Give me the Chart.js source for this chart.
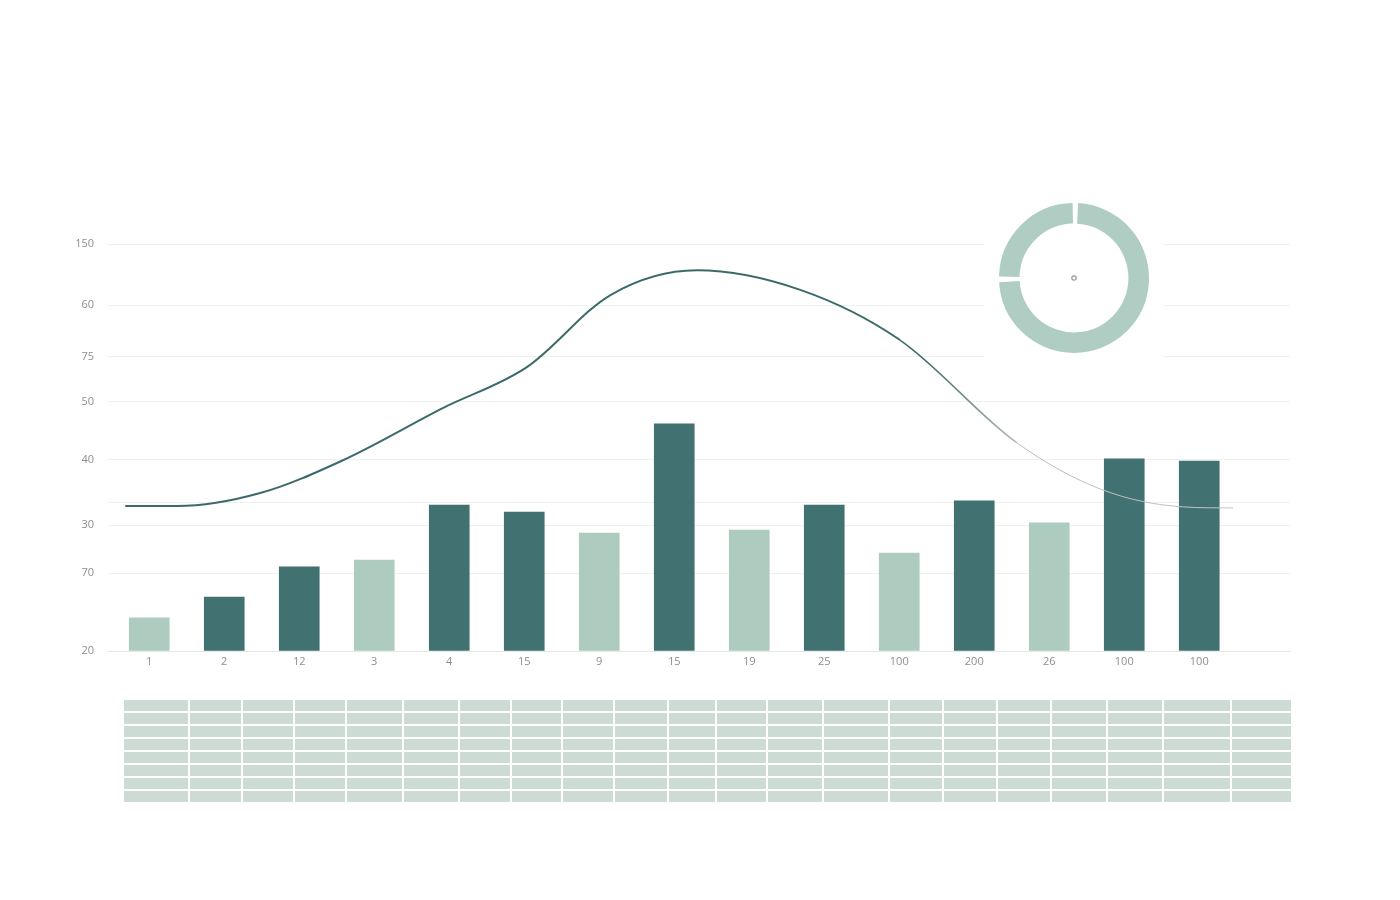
<!DOCTYPE html>
<html lang="en">
<head>
  <meta charset="UTF-8">
  <title>Bars and trend</title>
  <script src="https://cdn.jsdelivr.net/npm/chart.js"></script>
  <style>
    html, body {
      margin: 0;
      padding: 0;
      background: #ffffff;
    }
    body {
      width: 1400px;
      height: 900px;
      position: relative;
      overflow: hidden;
      font-family: "Open Sans", Arial, sans-serif;
    }
    #mainBox {
      position: absolute;
      left: 0;
      top: 0;
      width: 1400px;
      height: 900px;
    }
    #donutBox {
      position: absolute;
      left: 984px;
      top: 188px;
      width: 180px;
      height: 180px;
      background: #ffffff;
    }
    #grid {
      position: absolute;
      left: 124px;
      top: 700px;
      width: 1167px;
      border-collapse: collapse;
      table-layout: fixed;
    }
    #grid td {
      background: #cddbd5;
      border: 2px solid #ffffff;
      height: 11px;
      padding: 0;
    }
    #grid tr:first-child td { border-top: 0; }
    #grid tr:last-child td { border-bottom: 0; }
    #grid td:first-child { border-left: 0; }
    #grid td:last-child { border-right: 0; }
  </style>
</head>
<body>
  <div id="mainBox"><canvas id="mainChart"></canvas></div>
  <div id="donutBox"><canvas id="donutChart"></canvas></div>
  <table id="grid"></table>

  <script>
    // categories shown under the bars
    const xLabels = ['1', '2', '12', '3', '4', '15', '9', '15', '19', '25', '100', '200', '26', '100', '100'];
    // bar heights on the hidden linear scale (0 = baseline, 150 = top line)
    const barValues = [12.2, 19.9, 31.0, 33.5, 53.8, 51.2, 43.5, 83.7, 44.6, 53.8, 36.1, 55.3, 47.2, 70.8, 70.0];
    const barGroup = ['light', 'dark', 'dark', 'light', 'dark', 'dark', 'light', 'dark', 'light', 'dark', 'light', 'dark', 'light', 'dark', 'dark'];

    // trend curve, x in category units
    const lineX = [-0.32, 0.37, 1.48, 2.59, 3.92, 5.04, 6.15, 7.3, 8.68, 10.01, 11.57, 12.7, 13.79, 14.45];
    const lineY = [53.4, 53.4, 58.2, 70.4, 89.6, 104.7, 131.2, 140.3, 133.1, 114.6, 76.7, 59.5, 53.1, 52.7];

    // y tick positions and the labels printed at them
    const yTickPos = [0, 28.7, 46.4, 54.6, 70.4, 91.8, 108.4, 127.5, 150];
    const yTickLabels = ['20', '70', '30', '', '40', '50', '75', '60', '150'];

    // donut shares
    const donutValues = [75, 25];

    // table below the chart
    const tableRows = 8;
    const tableColWidths = [66, 53, 52, 52, 57, 55, 52, 51, 52, 54, 48, 51, 56, 66, 54, 54, 54, 55, 56, 68, 61];

    const DARK = '#417170';
    const LIGHT = '#adcbbf';

    const lineGradient = (ctx) => {
      const area = ctx.chart.chartArea;
      if (!area) return DARK;
      const g = ctx.chart.ctx.createLinearGradient(area.left, 0, area.right, 0);
      g.addColorStop(0, '#3c6a6a');
      g.addColorStop(0.69, '#3c6a6a');
      g.addColorStop(0.77, '#b9bcbb');
      g.addColorStop(1, '#c4c6c5');
      return g;
    };

    const mainChart = new Chart(document.getElementById('mainChart'), {
      data: {
        datasets: [
          {
            type: 'line',
            data: lineX.map((x, i) => ({ x: x, y: lineY[i] })),
            borderColor: lineGradient,
            borderWidth: 2,
            pointRadius: 0,
            cubicInterpolationMode: 'monotone',
            segment: {
              borderWidth: (ctx) => ctx.p0.parsed.x > 11 ? 1 : (ctx.p0.parsed.x > 9.9 ? 1.6 : 2)
            },
            order: 0
          },
          {
            type: 'bar',
            data: barValues.map((v, i) => ({ x: i, y: v })),
            backgroundColor: barGroup.map(g => g === 'dark' ? DARK : LIGHT),
            barThickness: 40,
            order: 1
          }
        ]
      },
      options: {
        responsive: true,
        maintainAspectRatio: false,
        animation: false,
        layout: {
          padding: { left: 0, right: 110, top: 244, bottom: 219 }
        },
        plugins: {
          legend: { display: false },
          tooltip: { enabled: false }
        },
        scales: {
          x: {
            type: 'linear',
            offset: false,
            min: -0.55,
            max: 15.21,
            afterBuildTicks: (scale) => {
              scale.ticks = xLabels.map((_, i) => ({ value: i }));
            },
            afterFit: (scale) => { scale.height = 30; },
            grid: { display: false, drawTicks: false },
            border: { display: true, color: '#e4e8e6' },
            ticks: {
              autoSkip: false,
              maxRotation: 0,
              padding: 4,
              color: '#8e8e8e',
              font: { family: 'Open Sans', size: 11 },
              callback: (value) => xLabels[value]
            }
          },
          y: {
            min: 0,
            max: 150,
            afterBuildTicks: (scale) => {
              scale.ticks = yTickPos.map(v => ({ value: v }));
            },
            afterFit: (scale) => { scale.width = 108; },
            grid: { color: '#eef1f0', lineWidth: 1, drawTicks: false },
            border: { display: false },
            ticks: {
              padding: 14,
              color: '#8e8e8e',
              font: { family: 'Open Sans', size: 11 },
              callback: (value, index) => yTickLabels[index]
            }
          }
        }
      }
    });

    const centerDot = {
      id: 'centerDot',
      afterDraw(chart) {
        const meta = chart.getDatasetMeta(0).data[0];
        if (!meta) return;
        const c = chart.ctx;
        c.save();
        c.beginPath();
        c.arc(meta.x, meta.y, 2.2, 0, Math.PI * 2);
        c.strokeStyle = '#9a9a9a';
        c.lineWidth = 1.2;
        c.stroke();
        c.restore();
      }
    };

    const donutChart = new Chart(document.getElementById('donutChart'), {
      type: 'doughnut',
      data: {
        labels: ['A', 'B'],
        datasets: [{
          data: donutValues,
          backgroundColor: ['#afcdc3', '#afcdc3'],
          borderWidth: 0,
          spacing: 3
        }]
      },
      options: {
        responsive: true,
        maintainAspectRatio: false,
        animation: false,
        cutout: '72%',
        layout: { padding: 15 },
        plugins: {
          legend: { display: false },
          tooltip: { enabled: false }
        }
      },
      plugins: [centerDot]
    });

    const table = document.getElementById('grid');
    for (let r = 0; r < tableRows; r++) {
      const tr = document.createElement('tr');
      tableColWidths.forEach(w => {
        const td = document.createElement('td');
        td.style.width = (w - 2) + 'px';
        tr.appendChild(td);
      });
      table.appendChild(tr);
    }
  </script>
</body>
</html>
